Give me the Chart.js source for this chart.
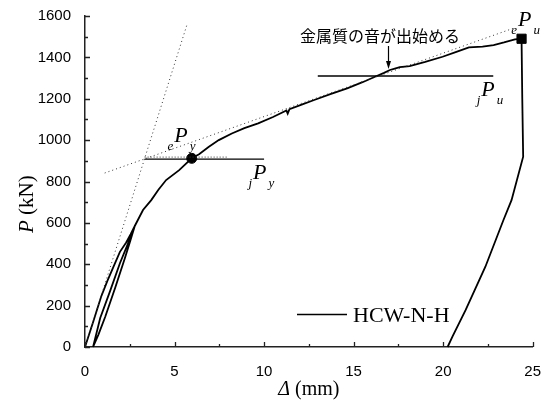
<!DOCTYPE html>
<html>
<head>
<meta charset="utf-8">
<script src="https://cdn.jsdelivr.net/npm/chart.js@4.4.1/dist/chart.umd.min.js"></script>
<style>
  html, body { margin: 0; padding: 0; background: #fff; }
  canvas { display: block; }
</style>
</head>
<body>
<canvas id="chart" width="549" height="403"></canvas>
<script>
// Load–displacement record of specimen HCW-N-H (displacement in mm, load in kN)
const dispMM = [
  0, 0.45, 0.9, 1.25, 1.6, 1.95, 2.3, 2.55, 2.78,            // first loading
  2.5, 2.23, 1.7, 1.13, 0.75, 0.45,                          // unloading
  0.85, 1.4, 1.95, 2.4, 2.78,                                // reloading
  3.24, 3.7, 4.1, 4.53, 5.26, 5.96, 6.37, 6.9, 7.47, 8.2, 8.9, 9.67,
  10.5, 11.25, 11.32, 11.42, 12.1, 12.8, 13.7, 14.64, 15.5, 16.29,
  16.7, 17.03, 17.3, 17.58, 18.13, 19.0, 19.97, 20.7, 21.44, 22.2,
  22.82, 23.4, 24.01, 24.38,
  24.42, 24.47, 23.82, 23.37, 22.36, 21.26, 20.52, 20.25     // final unloading
];
const loadKN = [
  0, 120, 243, 320, 390, 460, 505, 545, 585,
  505, 430, 290, 146, 60, 0,
  140, 270, 405, 500, 585,
  662, 710, 760, 807, 855, 912, 932, 967, 1000, 1032, 1058, 1081,
  1112, 1143, 1128, 1150, 1172, 1194, 1222, 1250, 1280, 1310,
  1325, 1339, 1346, 1353, 1358, 1378, 1403, 1425, 1448, 1452,
  1459, 1472, 1487, 1490,
  1200, 920, 710, 614, 388, 179, 50, 0
];

// Initial-stiffness and second-stiffness reference lines
const initStiffDisp = [0, 5.72];
const initStiffLoad = [0, 1565];
const secondStiffDisp = [1.1, 23.9];
const secondStiffLoad = [841, 1540];

// Yield load (jPy) and ultimate load (jPu) levels
const jPyDisp = [3.33, 10.0];
const jPyLoad = [908, 908];
const jPyDotDisp = [3.33, 8.0];
const jPyDotLoad = [918, 918];
const jPuDisp = [13.0, 22.8];
const jPuLoad = [1310, 1310];

// Marked points: ePy (circle) and ePu (square)
const ePyPoint = [5.96, 912];
const ePuPoint = [24.38, 1490];

// Onset of metallic noise
const noiseDisp = 16.94;
const noiseLabel = '金属質の音が出始める';

// Axis ticks
const xTicks = [0, 5, 10, 15, 20, 25];
const yTicks = [0, 200, 400, 600, 800, 1000, 1200, 1400, 1600];
const legendLabel = 'HCW-N-H';

const pts = (xs, ys) => xs.map((v, i) => ({ x: v, y: ys[i] }));

const SERIF = '"Liberation Serif", "DejaVu Serif", serif';
const SANS = '"Liberation Sans", Arial, sans-serif';

const lineDs = (data, width, dash, color) => ({
  data, showLine: true, borderColor: color || '#000', borderWidth: width,
  borderDash: dash || [], pointRadius: 0, pointHoverRadius: 0, tension: 0,
  fill: false, clip: false
});

// Inward tick marks on both axes
const inwardTicks = {
  id: 'inwardTicks',
  afterDatasetsDraw(chart) {
    const { ctx, scales: { x, y } } = chart;
    ctx.save();
    ctx.strokeStyle = '#222';
    ctx.lineWidth = 1.3;
    ctx.beginPath();
    for (let v = 0; v <= 25.001; v += 2.5) {
      const px = Math.round(x.getPixelForValue(v)) + 0.5;
      const len = (Math.abs(v / 5 - Math.round(v / 5)) < 1e-6) ? 5 : 3;
      ctx.moveTo(px, y.bottom);
      ctx.lineTo(px, y.bottom - len);
    }
    for (let v = 0; v <= 1600.01; v += 100) {
      const py = Math.round(y.getPixelForValue(v)) + 0.5;
      const len = (v % 200 === 0) ? 5 : 3;
      ctx.moveTo(x.left, py);
      ctx.lineTo(x.left + len, py);
    }
    ctx.stroke();
    ctx.restore();
  }
};

// Symbols such as eP_y : left subscript, italic P, right subscript
function drawSymbol(ctx, left, base, pre, post) {
  ctx.font = 'italic 22px ' + SERIF;
  ctx.textBaseline = 'alphabetic';
  ctx.textAlign = 'left';
  ctx.fillText('P', left, base);
  const pw = ctx.measureText('P').width;
  ctx.font = 'italic 13px ' + SERIF;
  const ew = ctx.measureText(pre).width;
  ctx.fillText(pre, left - ew - 1, base + 8);
  ctx.fillText(post, left + pw + 2, base + 8);
}

const annotations = {
  id: 'annotations',
  afterDraw(chart) {
    const { ctx, scales: { x, y } } = chart;
    ctx.save();
    ctx.fillStyle = '#000';
    ctx.strokeStyle = '#000';

    // eP_y near the circle marker
    const cx = x.getPixelForValue(ePyPoint[0]);
    const cy = y.getPixelForValue(ePyPoint[1]);
    drawSymbol(ctx, cx - 17.5, cy - 16.5, 'e', 'y');

    // jP_y below the end of the yield level line
    const jyx = x.getPixelForValue(jPyDisp[1]);
    const jyy = y.getPixelForValue(jPyLoad[1]);
    drawSymbol(ctx, jyx - 11, jyy + 20, 'j', 'y');

    // eP_u above the square marker
    const ux = x.getPixelForValue(ePuPoint[0]);
    const uy = y.getPixelForValue(ePuPoint[1]);
    drawSymbol(ctx, ux - 3.5, uy - 13, 'e', 'u');

    // jP_u below the end of the ultimate level line
    const jux = x.getPixelForValue(jPuDisp[1]);
    const juy = y.getPixelForValue(jPuLoad[1]);
    drawSymbol(ctx, jux - 12, juy + 20, 'j', 'u');

    // Metallic-noise note with arrow
    const ax = Math.round(x.getPixelForValue(noiseDisp)) + 0.5;
    ctx.font = '16px "Noto Sans CJK JP", sans-serif';
    ctx.textBaseline = 'middle';
    ctx.textAlign = 'left';
    ctx.fillText(noiseLabel, 300, 36);
    ctx.lineWidth = 1.2;
    ctx.beginPath();
    ctx.moveTo(ax, 46);
    ctx.lineTo(ax, 62);
    ctx.stroke();
    ctx.beginPath();
    ctx.moveTo(ax - 2.5, 61);
    ctx.lineTo(ax + 2.5, 61);
    ctx.lineTo(ax, 69);
    ctx.closePath();
    ctx.fill();

    // Legend inside the plot
    ctx.lineWidth = 1.6;
    ctx.beginPath();
    ctx.moveTo(297, 314.5);
    ctx.lineTo(347, 314.5);
    ctx.stroke();
    ctx.font = '22px ' + SERIF;
    ctx.textBaseline = 'alphabetic';
    ctx.fillText(legendLabel, 353, 322);

    // Axis titles
    ctx.font = 'italic 20px ' + SERIF;
    const dW = ctx.measureText('\u0394').width;
    ctx.font = '20px ' + SERIF;
    const mW = ctx.measureText(' (mm)').width;
    const xt = (x.left + x.right) / 2 - (dW + mW) / 2;
    ctx.font = 'italic 20px ' + SERIF;
    ctx.fillText('\u0394', xt, 395);
    ctx.font = '20px ' + SERIF;
    ctx.fillText(' (mm)', xt + dW, 395);

    ctx.translate(33, 233);
    ctx.rotate(-Math.PI / 2);
    ctx.font = 'italic 21px ' + SERIF;
    ctx.fillText('P', 0, 0);
    const pW = ctx.measureText('P').width;
    ctx.font = '21px ' + SERIF;
    ctx.fillText(' (kN)', pW, 0);
    ctx.restore();
  }
};

new Chart(document.getElementById('chart'), {
  type: 'scatter',
  data: {
    datasets: [
      lineDs(pts(initStiffDisp, initStiffLoad), 1, [1, 3], '#333'),
      lineDs(pts(secondStiffDisp, secondStiffLoad), 1, [1, 3], '#333'),
      lineDs(pts(jPyDotDisp, jPyDotLoad), 1, [1, 2], '#333'),
      lineDs(pts(jPyDisp, jPyLoad), 1.3),
      lineDs(pts(jPuDisp, jPuLoad), 1.3),
      lineDs(pts(dispMM, loadKN), 1.8),
      {
        data: [{ x: ePyPoint[0], y: ePyPoint[1] }],
        pointStyle: 'circle', pointRadius: 5, backgroundColor: '#000',
        borderColor: '#000', borderWidth: 1, clip: false
      },
      {
        data: [{ x: ePuPoint[0], y: ePuPoint[1] }],
        pointStyle: 'rect', pointRadius: 6.5, backgroundColor: '#000',
        borderColor: '#000', borderWidth: 1, clip: false
      }
    ]
  },
  options: {
    responsive: false,
    animation: false,
    events: [],
    layout: { padding: { top: 16, right: 11, left: 0, bottom: 0 } },
    plugins: { legend: { display: false }, tooltip: { enabled: false } },
    scales: {
      x: {
        type: 'linear', min: 0, max: 25,
        afterFit: s => { s.height = 56; },
        afterBuildTicks: s => { s.ticks = xTicks.map(v => ({ value: v })); },
        grid: { display: false },
        border: { display: true, color: '#222', width: 1.5 },
        ticks: { color: '#000', font: { family: SANS, size: 15 }, padding: 8, autoSkip: false, maxRotation: 0,
                 callback: v => String(v) }
      },
      y: {
        type: 'linear', min: 0, max: 1600,
        afterFit: s => { s.width = 85; },
        afterBuildTicks: s => { s.ticks = yTicks.map(v => ({ value: v })); },
        grid: { display: false },
        border: { display: true, color: '#222', width: 1.5 },
        ticks: { color: '#000', font: { family: SANS, size: 15 }, padding: 6, autoSkip: false,
                 callback: v => String(v) }
      }
    }
  },
  plugins: [inwardTicks, annotations]
});
</script>
</body>
</html>
